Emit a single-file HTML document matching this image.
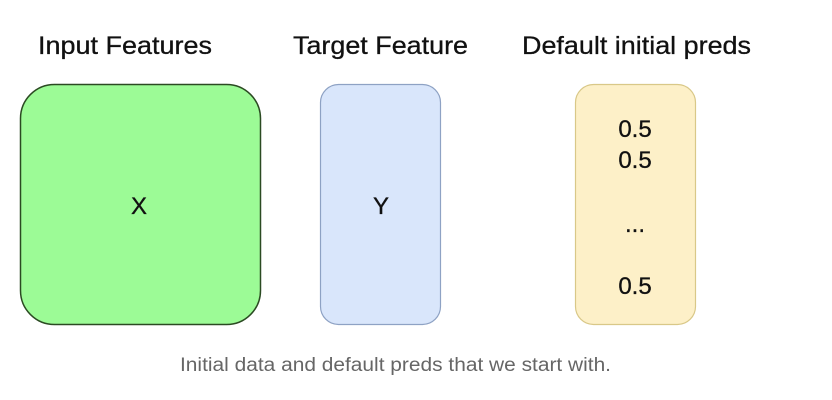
<!DOCTYPE html>
<html><head><meta charset="utf-8"><style>
html,body{margin:0;padding:0;background:#fff;}
svg{display:block;}
</style></head><body>
<svg width="832" height="400" viewBox="0 0 832 400" xmlns="http://www.w3.org/2000/svg">
<g font-family="Liberation Sans, sans-serif" fill="#111" stroke="#111" stroke-width="0.3">
<text x="38" y="54" font-size="25" textLength="174" lengthAdjust="spacingAndGlyphs">Input Features</text>
<text x="293" y="54" font-size="25" textLength="175" lengthAdjust="spacingAndGlyphs">Target Feature</text>
<text x="522" y="54" font-size="25" textLength="229" lengthAdjust="spacingAndGlyphs">Default initial preds</text>
</g>
<rect x="20.5" y="84.5" width="240" height="240" rx="34" fill="#9cfb96" stroke="#2b4a22" stroke-width="1.5"/>
<rect x="320.5" y="84.5" width="120" height="240" rx="18" fill="#d9e6fb" stroke="#8ea2c4" stroke-width="1.2"/>
<rect x="575.5" y="84.5" width="120" height="240" rx="18" fill="#fdf0c8" stroke="#d9c888" stroke-width="1.2"/>
<g font-family="Liberation Sans, sans-serif" fill="#111" stroke="#111" stroke-width="0.3" font-size="24" text-anchor="middle">
<text x="139" y="214">X</text>
<text x="381" y="214">Y</text>
<text x="635" y="137">0.5</text>
<text x="635" y="168">0.5</text>
<text x="635" y="232">...</text>
<text x="635" y="294">0.5</text>
</g>
<text x="180" y="371" font-family="Liberation Sans, sans-serif" font-size="19" fill="#666" textLength="431" lengthAdjust="spacingAndGlyphs">Initial data and default preds that we start with.</text>
</svg>
</body></html>
